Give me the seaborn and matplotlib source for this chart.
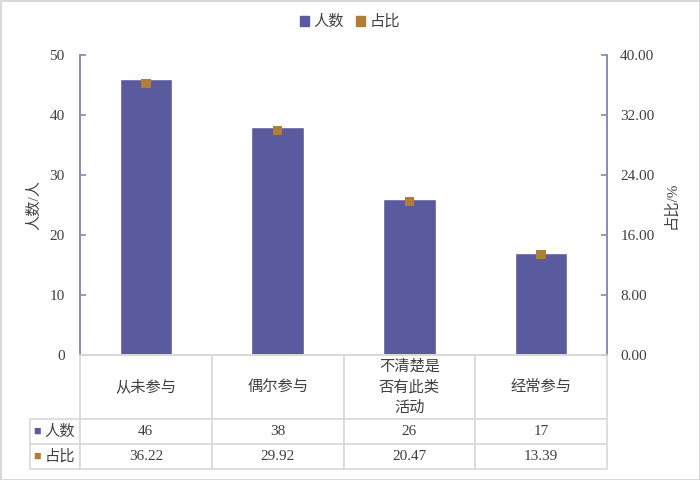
import numpy as np
import matplotlib
matplotlib.use('Agg')
import matplotlib.pyplot as plt
from matplotlib.patches import Patch
import seaborn as sns

categories = ['从未参与', '偶尔参与', '不清楚是\n否有此类\n活动', '经常参与']
counts = [46, 38, 26, 17]
percents = [36.22, 29.92, 20.47, 13.39]
row_names = ['人数', '占比']

bar_color = '#5A5A9E'
point_color = '#B07E35'
spine_color = '#8A8AC0'
grid_color = '#D9D9D9'
text_color = '#404040'

sns.set_theme(style='white')
plt.rcParams['font.family'] = ['Liberation Serif', 'Noto Sans CJK SC']
plt.rcParams['text.color'] = text_color
plt.rcParams['axes.labelcolor'] = text_color
plt.rcParams['xtick.color'] = text_color
plt.rcParams['ytick.color'] = text_color

fig = plt.figure(figsize=(7, 4.8), dpi=100)
fig.patch.set_edgecolor(grid_color)
fig.patch.set_linewidth(2)
ax = fig.add_axes([80 / 700, 1 - 355 / 480, 527 / 700, 300 / 480])

x_pos = np.arange(len(categories))
sns.barplot(x=x_pos, y=counts, ax=ax, color=bar_color, width=0.4,
            saturation=1, native_scale=True)
ax.set_xlim(-0.5, len(categories) - 0.5)
ax.set_ylim(0, 50)
ax.set_yticks(np.arange(0, 51, 10))
ax.set_ylabel('人数/人', fontsize=11, labelpad=6)
ax.set_xlabel('')
ax.tick_params(axis='x', bottom=False, labelbottom=False)
ax.tick_params(axis='y', direction='in', length=4, color=spine_color,
               labelsize=11, pad=11)

ax2 = ax.twinx()
sns.scatterplot(x=x_pos, y=percents, ax=ax2, marker='s', s=45,
                color=point_color, edgecolor='none', zorder=5)
ax2.set_ylim(0, 40)
ax2.set_yticks(np.arange(0, 41, 8))
ax2.set_yticklabels([f'{v:.2f}' for v in np.arange(0, 41, 8)])
ax2.set_ylabel('占比/%', fontsize=11, rotation=90, labelpad=7)
ax2.tick_params(axis='y', direction='in', length=4, color=spine_color,
                labelsize=11, pad=9.5)
ax2.grid(False)

for a in (ax, ax2):
    a.spines['top'].set_visible(False)
    a.spines['left'].set_color(spine_color)
    a.spines['right'].set_color(spine_color)
    a.spines['bottom'].set_color(grid_color)
    for s in ('left', 'right', 'bottom'):
        a.spines[s].set_linewidth(1.2)

# data table under the plot (first column holds the row names)
cell_text = [[row_names[0]] + [str(v) for v in counts],
             [row_names[1]] + [f'{v:.2f}' for v in percents]]
label_w = 50 / 527
table = ax.table(cellText=cell_text, colLabels=[''] + categories,
                 colWidths=[label_w] + [0.25] * 4, cellLoc='center',
                 bbox=[-label_w, -114 / 300, 1 + label_w, 114 / 300])
table.auto_set_font_size(False)
table.set_fontsize(11)
for (r, c), cell in table.get_celld().items():
    cell.set_edgecolor(grid_color)
    cell.set_linewidth(1.2)
    cell.get_text().set_color(text_color)
    cell.set_height(64 / 300 if r == 0 else 25 / 300)
    if r == 0:
        cell.get_text().set_linespacing(1.55)
    if c == 0:
        if r == 0:
            cell.visible_edges = ''
        else:
            cell.get_text().set_horizontalalignment('right')
            cell._loc = 'right'

for col, yc in zip([bar_color, point_color], [432, 457]):
    ax.text(-47 / 527, (355 - yc) / 300, '■', color=col, fontsize=9,
            ha='left', va='center', transform=ax.transAxes)

handles = [Patch(color=bar_color), Patch(color=point_color)]
fig.legend(handles, row_names, loc='center', bbox_to_anchor=(0.5, 1 - 22 / 480),
           ncol=2, frameon=False, fontsize=11, handlelength=0.6,
           handleheight=0.6, handletextpad=0.3, columnspacing=0.8)

fig.savefig('out.png', dpi=100, edgecolor=fig.get_edgecolor())
